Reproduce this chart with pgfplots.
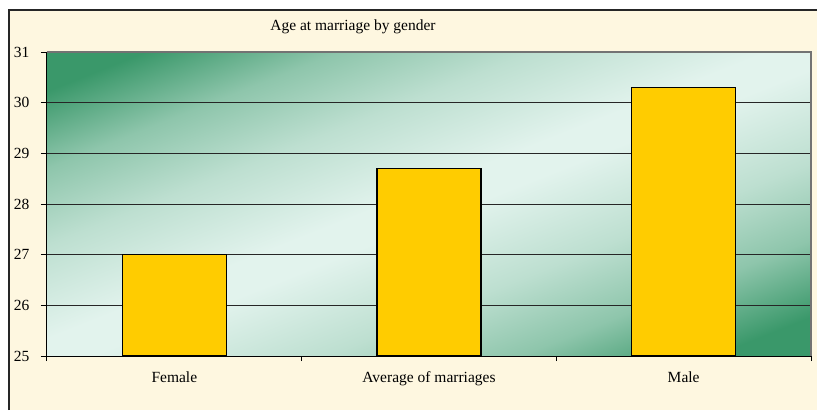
\documentclass[border=0pt]{standalone}
\usepackage{pgfplots}
\pgfplotsset{compat=1.18}
\usepackage{fontspec}
\setmainfont{Liberation Serif}
\definecolor{dgreen}{RGB}{58,152,106}
\definecolor{lgreen}{RGB}{226,243,237}
\definecolor{cream}{RGB}{254,247,224}
\definecolor{gold}{RGB}{255,204,0}
\colorlet{mgreenA}{lgreen!50!dgreen}
\colorlet{mgreenB}{lgreen!78!dgreen}
\pgfdeclareverticalshading{excel}{100bp}{color(0bp)=(dgreen); color(19bp)=(dgreen); color(28bp)=(mgreenA); color(37bp)=(mgreenB); color(48bp)=(lgreen); color(52bp)=(lgreen); color(63bp)=(mgreenB); color(72bp)=(mgreenA); color(81bp)=(dgreen); color(100bp)=(dgreen)}
\begin{document}
\begin{tikzpicture}
\useasboundingbox (0pt,0pt) rectangle (817pt,410pt);
\fill[white] (0pt,0pt) rectangle (817pt,410pt);
\fill[cream] (9pt,0pt) rectangle (817pt,400pt);
\draw[line width=2pt, black!85] (9pt,0pt) -- (9pt,400pt) -- (817pt,400pt);
\node[font=\fontsize{15.5}{18}\selectfont] at (353pt,383pt) {Age at marriage by gender};
\begin{scope}
\clip (47pt,54pt) rectangle (811pt,358pt);
\begin{scope}[transform canvas={shift={(429pt,206pt)}, xscale=3.82, yscale=1.52}]
\shade[shading=excel, shading angle=45] (-100pt,-100pt) rectangle (100pt,100pt);
\end{scope}
\end{scope}
\begin{axis}[
  at={(47pt,54pt)}, anchor=south west,
  scale only axis, width=764pt, height=304pt,
  xmin=-0.5, xmax=2.5, ymin=25, ymax=31,
  ybar, bar width=104pt,
  axis line style={draw=none},
  xtick={0,1,2},
  xticklabels={Female,Average of marriages,Male},
  minor xtick={-0.5,0.5,1.5,2.5},
  ytick={25,26,27,28,29,30,31},
  xtick pos=bottom, ytick pos=left,
  tick align=outside,
  x tick style={draw=none},
  minor x tick style={draw=black, line width=1pt},
  minor tick length=5pt,
  y tick style={black, line width=1pt},
  major tick length=6pt,
  ymajorgrids,
  major grid style={black!85, line width=0.9pt},
  /pgf/number format/assume math mode=true,
  every tick label/.append style={font=\fontsize{15.5}{18}\selectfont, text=black},
  yticklabel style={xshift=-8pt},
  xticklabel style={yshift=-6pt},
  after end axis/.code={
    \draw[black!55, line width=2pt] (rel axis cs:0,1) -- (rel axis cs:1,1) -- (rel axis cs:1,0);
    \draw[black, line width=1pt] (rel axis cs:0,1) -- (rel axis cs:0,0) -- (rel axis cs:1,0);
  },
]
\addplot[fill=gold, draw=black, line width=1.2pt] coordinates {(0,27) (1,28.7) (2,30.3)};
\end{axis}
\end{tikzpicture}
\end{document}
